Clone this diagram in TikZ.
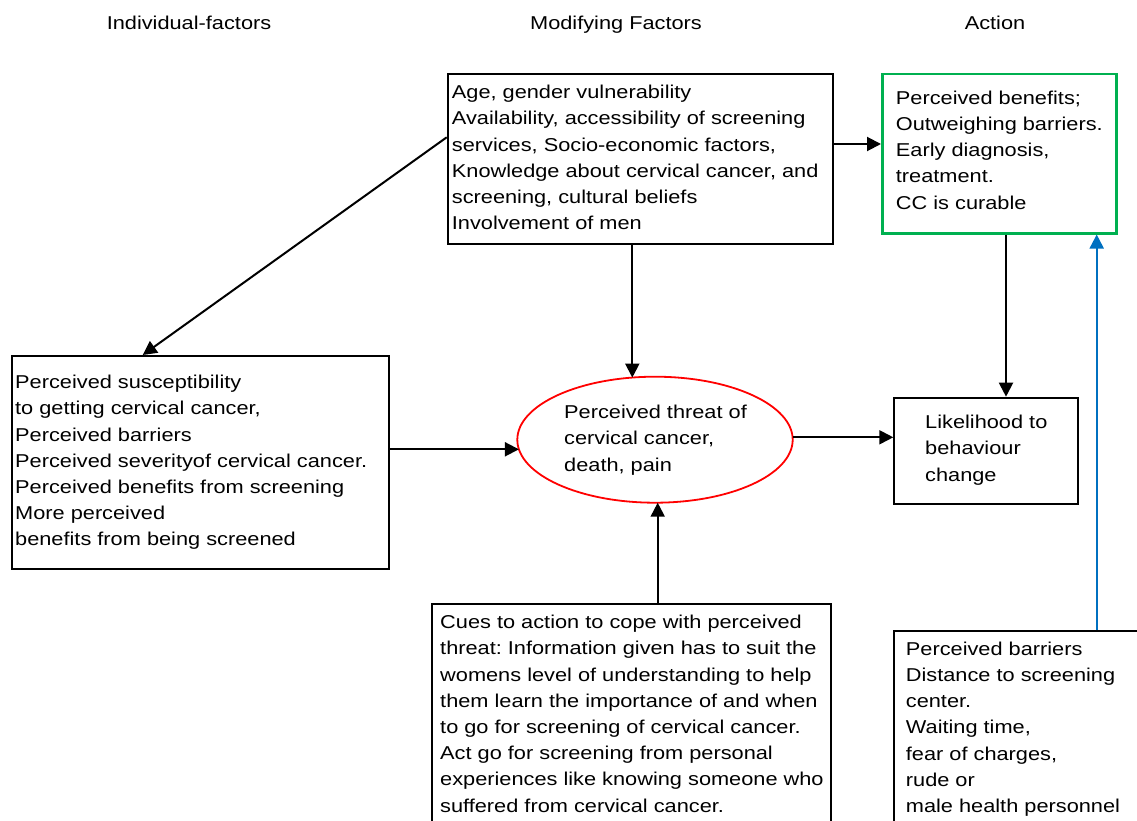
\documentclass[tikz,border=0pt]{standalone}
\usepackage{fontspec}
\setmainfont[FakeStretch=1.17]{Liberation Sans}
\usetikzlibrary{shapes.geometric,arrows.meta}
\definecolor{boxgreen}{RGB}{0,176,80}
\definecolor{arrblue}{RGB}{0,112,192}
\definecolor{ellred}{RGB}{255,0,0}
\frenchspacing
\tikzset{
  box/.style={draw=black, line width=1.8pt, anchor=north west, inner sep=0pt, fill=white},
  txt/.style={anchor=north west, inner sep=0pt, align=left, font=\fontsize{18.6}{26.2}\selectfont\frenchspacing},
  hdr/.style={anchor=base, inner sep=0pt, font=\fontsize{18.6}{22}\selectfont},
  arr/.style={line width=2pt, -{Triangle[length=14pt,width=14pt]}},
}
\begin{document}
\begin{tikzpicture}[x=1pt,y=-1pt]
\useasboundingbox (0,0) rectangle (1137,821);
\clip (0,0) rectangle (1137,821);
% headers
\node[hdr] (h1) at (189,30) {Individual-factors};
\node[hdr] (h2) at (616,30) {Modifying Factors};
\node[hdr] (h3) at (995,30) {Action};
% boxes
\node[box, minimum width=385.6pt, minimum height=169.4pt] (top) at (446.7,73.3) {};
\node[box, draw=boxgreen, line width=2.8pt, minimum width=234pt, minimum height=159pt] (green) at (881,72.7) {};
\node[box, minimum width=377.6pt, minimum height=212.7pt] (left) at (10.7,355) {};
\node[draw=ellred, line width=1.8pt, ellipse, inner sep=0pt, minimum width=275.4pt, minimum height=126pt] (ell) at (655,439.7) {};
\node[box, minimum width=183.4pt, minimum height=106.6pt] (lik) at (893.3,396.7) {};
\node[box, minimum width=399pt, minimum height=240pt] (cues) at (431,602.7) {};
\node[box, minimum width=260pt, minimum height=220pt] (bar) at (892.7,630) {};
% texts
\node[txt] (ttop) at (451.7,85) {Age, gender vulnerability\\Availability, accessibility of screening\\services, Socio-economic factors,\\Knowledge about cervical cancer, and\\screening, cultural beliefs\\Involvement of men};
\node[txt] (tgreen) at (895.7,90.7) {Perceived benefits;\\Outweighing barriers.\\Early diagnosis,\\treatment.\\CC is curable};
\node[txt] (tleft) at (15,375) {Perceived susceptibility\\to getting cervical cancer,\\Perceived barriers\\Perceived severityof cervical cancer.\\Perceived benefits from screening\\More perceived\\benefits from being screened};
\node[txt] (tell) at (564,405) {Perceived threat of\\cervical cancer,\\death, pain};
\node[txt] (tlik) at (925,415) {Likelihood to\\behaviour\\change};
\node[txt] (tcues) at (440,615) {Cues to action to cope with perceived\\threat: Information given has to suit the\\womens level of understanding to help\\them learn the importance of and when\\to go for screening of cervical cancer.\\Act go for screening from personal\\experiences like knowing someone who\\suffered from cervical cancer.};
\node[txt] (tbar) at (905.7,641.7) {Perceived barriers\\Distance to screening\\center.\\Waiting time,\\fear of charges,\\rude or\\male health personnel};
% connectors
\coordinate (d1) at (446.7,137.3);
\coordinate (d2) at (142.7,355);
\draw[arr] (d1) -- (d2);
\draw[arr] (top.east |- 0,144) -- (green.west |- 0,144);
\draw[arr] (top.south -| 632.3,0) -- (632.3,377.6);
\draw[arr] (left.east |- 0,449.3) -- (518.9,449.3);
\draw[arr] (cues.north -| 657.7,0) -- (657.7,502.7);
\draw[arr] (792.5,437.3) -- (lik.west |- 0,437.3);
\draw[arr] (green.south -| 1006,0) -- (lik.north -| 1006,0);
\draw[arr, draw=arrblue] (bar.north -| 1096.7,0) -- (green.south -| 1096.7,0);
\end{tikzpicture}
\end{document}
